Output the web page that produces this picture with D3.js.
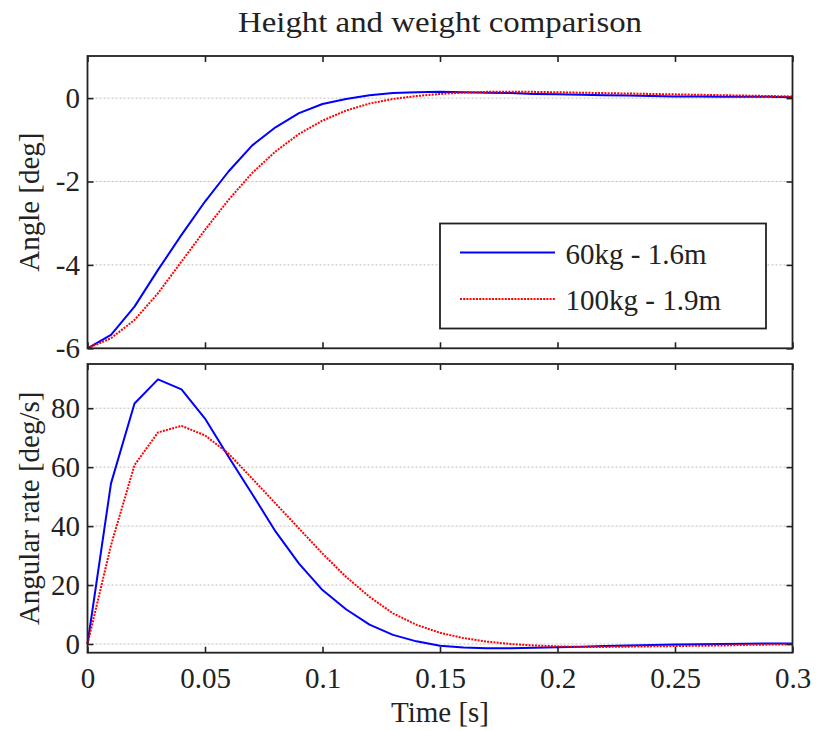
<!DOCTYPE html>
<html>
<head>
<meta charset="utf-8">
<script src="https://cdn.jsdelivr.net/npm/d3@7"></script>
<style>
  html, body { margin: 0; padding: 0; background: #fff; }
</style>
</head>
<body>
<svg id="chart" width="816" height="731"></svg>
<script>
// Simulation time samples (s)
const time = [0,0.01,0.02,0.03,0.04,0.05,0.06,0.07,0.08,0.09,0.10,0.11,0.12,0.13,0.14,0.15,
              0.16,0.17,0.18,0.19,0.20,0.21,0.22,0.23,0.24,0.25,0.26,0.27,0.28,0.29,0.30];

// Angle response [deg]
const angleLight = [-6,-5.68,-5.0,-4.12,-3.28,-2.48,-1.76,-1.14,-0.70,-0.36,-0.14,-0.02,0.07,0.12,0.14,0.15,
                    0.14,0.13,0.12,0.10,0.09,0.08,0.07,0.06,0.05,0.04,0.04,0.03,0.03,0.03,0.02];
const angleHeavy = [-6,-5.76,-5.32,-4.68,-3.92,-3.16,-2.44,-1.80,-1.28,-0.86,-0.54,-0.30,-0.13,-0.02,0.05,0.10,
                    0.13,0.15,0.15,0.15,0.14,0.13,0.12,0.11,0.10,0.09,0.08,0.07,0.06,0.05,0.04];

// Angular rate response [deg/s]
const rateLight = [0,54.5,81.6,89.8,86.4,76.5,63.5,51.0,38.2,27.3,18.3,11.8,6.6,3.1,0.9,-0.6,
                   -1.2,-1.4,-1.4,-1.3,-1.1,-0.9,-0.7,-0.5,-0.3,-0.2,-0.1,0.0,0.1,0.2,0.2];
const rateHeavy = [0,33.5,60.7,71.8,74.0,70.8,64.6,56.2,47.7,39.2,30.7,22.8,16.0,10.4,6.5,3.8,
                   2.0,0.8,0.0,-0.5,-0.8,-1.0,-1.0,-0.9,-0.8,-0.7,-0.6,-0.5,-0.3,-0.2,-0.1];

const seriesNames = ["60kg - 1.6m", "100kg - 1.9m"];
const xTicks = [0,0.05,0.1,0.15,0.2,0.25,0.3];
const angleTicks = [-6,-4,-2,0];
const rateTicks = [0,20,40,60,80];

const FONT = '"Liberation Serif", "Times New Roman", serif';
const INK = "#222";

const svg = d3.select("#chart")
  .attr("font-family", FONT);

const left = 87.5, right = 792.5;
const x = d3.scaleLinear().domain([0, 0.3]).range([left, right]);

const panels = [
  { top: 56, bottom: 348.3, domain: [-6, 1.01], ticks: angleTicks, label: "Angle [deg]",
    series: [angleLight, angleHeavy], xLabels: false },
  { top: 364, bottom: 652.7, domain: [-2.95, 95], ticks: rateTicks, label: "Angular rate [deg/s]",
    series: [rateLight, rateHeavy], xLabels: true }
];

const styles = [
  { color: "#0000ff", dash: null },
  { color: "#ff0000", dash: "2,1.2" }
];

const fmt = d => String(+d.toFixed(2));

panels.forEach(p => {
  const y = d3.scaleLinear().domain(p.domain).range([p.bottom, p.top]);
  const g = svg.append("g");

  // horizontal dotted grid
  g.append("g").selectAll("line").data(p.ticks).join("line")
    .attr("x1", left).attr("x2", right)
    .attr("y1", d => y(d)).attr("y2", d => y(d))
    .attr("stroke", "#bdbdbd").attr("stroke-width", 1)
    .attr("stroke-dasharray", "2,2");

  // data lines
  const line = d3.line().x((d, i) => x(time[i])).y(d => y(d));
  p.series.forEach((s, k) => {
    g.append("path").datum(s)
      .attr("d", line)
      .attr("fill", "none")
      .attr("stroke", styles[k].color)
      .attr("stroke-width", 2)
      .attr("stroke-dasharray", styles[k].dash)
      .attr("stroke-linejoin", "round");
  });

  // inward ticks on all four sides
  const tl = 6;
  const axB = d3.axisBottom(x).tickValues(xTicks).tickSize(-tl).tickFormat(p.xLabels ? fmt : () => "").tickPadding(15);
  const axT = d3.axisTop(x).tickValues(xTicks).tickSize(-tl).tickFormat(() => "");
  const axL = d3.axisLeft(y).tickValues(p.ticks).tickSize(-tl).tickFormat(fmt).tickPadding(7.5);
  const axR = d3.axisRight(y).tickValues(p.ticks).tickSize(-tl).tickFormat(() => "");

  const styleAxis = sel => {
    sel.attr("font-family", FONT).attr("font-size", 29);
    sel.select(".domain").remove();
    sel.selectAll(".tick line").attr("stroke", INK).attr("stroke-width", 1.6);
    sel.selectAll(".tick text").attr("fill", INK);
  };

  g.append("g").attr("transform", `translate(0,${p.bottom})`).call(axB).call(styleAxis);
  g.append("g").attr("transform", `translate(0,${p.top})`).call(axT).call(styleAxis);
  g.append("g").attr("transform", `translate(${left},0)`).call(axL).call(styleAxis);
  g.append("g").attr("transform", `translate(${right},0)`).call(axR).call(styleAxis);

  // frame
  g.append("rect")
    .attr("x", left).attr("y", p.top)
    .attr("width", right - left).attr("height", p.bottom - p.top)
    .attr("fill", "none").attr("stroke", INK).attr("stroke-width", 1.8);

  // y label
  g.append("text")
    .attr("transform", `translate(39,${(p.top + p.bottom) / 2}) rotate(-90)`)
    .attr("text-anchor", "middle")
    .attr("font-size", 29)
    .attr("fill", INK)
    .text(p.label);
});

// title
svg.append("text")
  .attr("x", 440).attr("y", 31.5)
  .attr("text-anchor", "middle")
  .attr("font-size", 29)
  .attr("fill", INK)
  .attr("textLength", 404)
  .attr("lengthAdjust", "spacingAndGlyphs")
  .text("Height and weight comparison");

// x label
svg.append("text")
  .attr("x", 440).attr("y", 721.5)
  .attr("text-anchor", "middle")
  .attr("font-size", 29)
  .attr("fill", INK)
  .text("Time [s]");

// legend
const lg = svg.append("g");
lg.append("rect")
  .attr("x", 440).attr("y", 223.5).attr("width", 326).attr("height", 105)
  .attr("fill", "#fff").attr("stroke", INK).attr("stroke-width", 1.8);
seriesNames.forEach((name, k) => {
  const yy = 252.5 + k * 46.5;
  lg.append("line")
    .attr("x1", 460).attr("x2", 555).attr("y1", yy).attr("y2", yy)
    .attr("stroke", styles[k].color).attr("stroke-width", 2)
    .attr("stroke-dasharray", styles[k].dash);
  lg.append("text")
    .attr("x", 565.5).attr("y", yy + 11)
    .attr("font-size", 29)
    .attr("fill", INK)
    .text(name);
});
</script>
</body>
</html>
